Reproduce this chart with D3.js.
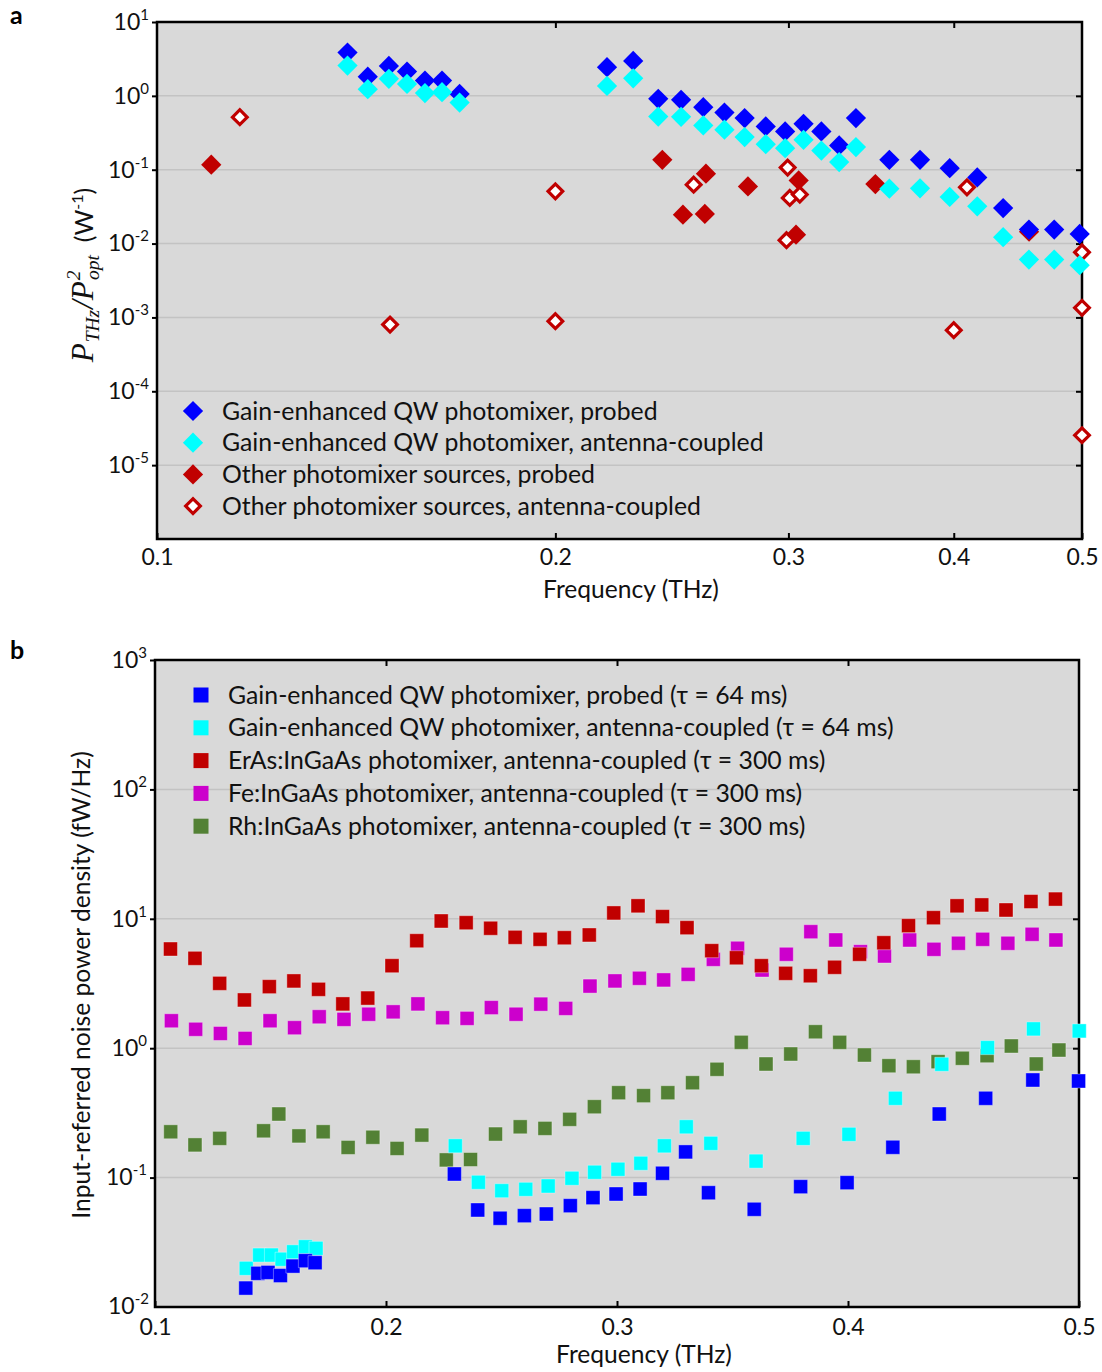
<!DOCTYPE html>
<html>
<head>
<meta charset="utf-8">
<script src="https://cdn.jsdelivr.net/npm/d3@7"></script>
<style>
  html, body { margin: 0; padding: 0; background: #ffffff; }
  svg { display: block; }
</style>
</head>
<body>
<svg id="fig" width="1102" height="1372"></svg>
<script>
// ---------------- Panel a: P_THz / P_opt^2 versus frequency ----------------
const freqQW_a = [0.1393, 0.1443, 0.1497, 0.1545, 0.1594, 0.1642, 0.1693,
  0.2188, 0.229, 0.2392, 0.2489, 0.2587, 0.2684, 0.278, 0.2884, 0.2983, 0.308,
  0.3177, 0.3277, 0.3374, 0.3576, 0.3772, 0.3972, 0.4167, 0.4359, 0.4559, 0.4764, 0.498];
const probedQW_a = [3.85, 1.82, 2.54, 2.13, 1.61, 1.61, 1.06,
  2.44, 2.97, 0.911, 0.883, 0.703, 0.594, 0.50, 0.385, 0.33, 0.419,
  0.33, 0.213, 0.50, 0.136, 0.136, 0.105, 0.0787, 0.0303, 0.0155, 0.0155, 0.0135];
const antennaQW_a = [2.57, 1.23, 1.70, 1.45, 1.09, 1.12, 0.81,
  1.36, 1.73, 0.525, 0.52, 0.397, 0.348, 0.277, 0.222, 0.196, 0.254,
  0.182, 0.127, 0.203, 0.0553, 0.056, 0.0428, 0.0319, 0.0122, 0.00608, 0.00608, 0.00509];
const freqOtherProbed_a = [0.1099, 0.2409, 0.2599, 0.2497, 0.2594, 0.2796, 0.3054, 0.304, 0.349, 0.456];
const otherProbed_a = [0.117, 0.136, 0.0883, 0.0246, 0.0252, 0.0594, 0.0716, 0.0132, 0.064, 0.0145];
const freqOtherAntenna_a = [0.1155, 0.15, 0.2, 0.2, 0.2544, 0.2996, 0.3007, 0.306, 0.299, 0.4, 0.4093, 0.5, 0.5, 0.5];
const otherAntenna_a = [0.515, 0.0008, 0.00089, 0.051, 0.0627, 0.107, 0.0415, 0.046, 0.0111, 0.000673, 0.0577, 0.0076, 0.00135, 2.54e-5];
const legend_a = [
  "Gain-enhanced QW photomixer, probed",
  "Gain-enhanced QW photomixer, antenna-coupled",
  "Other photomixer sources, probed",
  "Other photomixer sources, antenna-coupled"
];
const yDecades_a = [1e1, 1e0, 1e-1, 1e-2, 1e-3, 1e-4, 1e-5];

// ---------------- Panel b: input-referred noise power density ----------------
const freqProbedQW_b = [0.1393, 0.1445, 0.1489, 0.1543, 0.1597, 0.1651, 0.1693,
  0.2296, 0.2397, 0.2494, 0.2599, 0.2694, 0.2798, 0.2896, 0.2996, 0.31, 0.3197,
  0.3297, 0.3396, 0.3594, 0.3795, 0.3996, 0.4194, 0.4395, 0.4596, 0.48, 0.4998];
const probedQW_b = [0.0140, 0.0182, 0.0185, 0.0175, 0.0207, 0.0228, 0.022,
  0.1066, 0.0562, 0.0485, 0.0508, 0.0523, 0.0607, 0.070, 0.0747, 0.0816, 0.108,
  0.158, 0.0764, 0.0569, 0.0851, 0.0914, 0.1715, 0.31, 0.41, 0.568, 0.558];
const freqAntennaQW_b = [0.1395, 0.1453, 0.1504, 0.155, 0.16, 0.1651, 0.1697,
  0.23, 0.24, 0.2501, 0.2605, 0.2702, 0.2805, 0.2903, 0.3004, 0.3103, 0.3205,
  0.33, 0.3406, 0.3602, 0.3806, 0.4004, 0.4205, 0.4406, 0.4604, 0.4803, 0.5001];
const antennaQW_b = [0.0199, 0.0252, 0.0252, 0.0234, 0.0267, 0.0292, 0.0284,
  0.176, 0.092, 0.0792, 0.0812, 0.0861, 0.0988, 0.110, 0.116, 0.129, 0.176,
  0.247, 0.184, 0.134, 0.201, 0.216, 0.41, 0.751, 1.01, 1.41, 1.36];
const freqErAs_b = [0.1067, 0.1173, 0.128, 0.1387, 0.1495, 0.1601, 0.1708, 0.1813, 0.1921,
  0.2026, 0.2133, 0.2239, 0.2347, 0.2453, 0.2559, 0.2667, 0.2772, 0.288, 0.2986,
  0.3091, 0.3197, 0.3303, 0.341, 0.3517, 0.3625, 0.373, 0.3837, 0.3942, 0.405,
  0.4155, 0.4262, 0.437, 0.4472, 0.4579, 0.4684, 0.4792, 0.4898];
const erAs_b = [5.84, 4.95, 3.17, 2.36, 2.99, 3.31, 2.85, 2.20, 2.44,
  4.34, 6.77, 9.62, 9.33, 8.45, 7.19, 6.94, 7.14, 7.50, 11.1,
  12.6, 10.4, 8.54, 5.67, 5.0, 4.34, 3.79, 3.63, 4.22, 5.32,
  6.53, 8.85, 10.2, 12.6, 12.8, 11.7, 13.6, 14.2];
const freqFe_b = [0.1071, 0.1176, 0.1283, 0.139, 0.1498, 0.1604, 0.1711, 0.1818, 0.1925,
  0.2031, 0.2138, 0.2245, 0.2351, 0.2456, 0.2563, 0.267, 0.2778, 0.2883, 0.2991,
  0.3097, 0.3202, 0.3308, 0.3417, 0.3522, 0.3628, 0.3733, 0.3839, 0.3947, 0.4054,
  0.4158, 0.4267, 0.4372, 0.4478, 0.4583, 0.4692, 0.4797, 0.49];
const fe_b = [1.63, 1.40, 1.30, 1.19, 1.63, 1.44, 1.75, 1.67, 1.83,
  1.91, 2.20, 1.72, 1.70, 2.06, 1.83, 2.19, 2.03, 3.02, 3.31,
  3.47, 3.37, 3.72, 4.86, 5.92, 4.02, 5.32, 7.95, 6.86, 5.57,
  5.16, 6.86, 5.81, 6.47, 6.94, 6.47, 7.59, 6.86];
const freqRh_b = [0.1068, 0.1173, 0.128, 0.147, 0.1536, 0.1623, 0.1728, 0.1836, 0.1943,
  0.2048, 0.2155, 0.2261, 0.2366, 0.2474, 0.2581, 0.2688, 0.2795, 0.2902, 0.3007,
  0.3115, 0.322, 0.3327, 0.3433, 0.3538, 0.3645, 0.3752, 0.3859, 0.3964, 0.4071,
  0.4177, 0.4283, 0.439, 0.4495, 0.4602, 0.4707, 0.4815, 0.4913];
const rh_b = [0.226, 0.179, 0.201, 0.230, 0.310, 0.21, 0.226, 0.171, 0.205,
  0.168, 0.213, 0.137, 0.138, 0.217, 0.247, 0.240, 0.282, 0.353, 0.453,
  0.43, 0.453, 0.541, 0.687, 1.11, 0.755, 0.902, 1.34, 1.11, 0.886,
  0.732, 0.719, 0.787, 0.836, 0.875, 1.04, 0.755, 0.968];
const legend_b = [
  "Gain-enhanced QW photomixer, probed (\u03C4 = 64 ms)",
  "Gain-enhanced QW photomixer, antenna-coupled (\u03C4 = 64 ms)",
  "ErAs:InGaAs photomixer, antenna-coupled (\u03C4 = 300 ms)",
  "Fe:InGaAs photomixer, antenna-coupled (\u03C4 = 300 ms)",
  "Rh:InGaAs photomixer, antenna-coupled (\u03C4 = 300 ms)"
];
const yDecades_b = [1e3, 1e2, 1e1, 1e0, 1e-1, 1e-2];
const freqTicks = [0.1, 0.2, 0.3, 0.4, 0.5];

// ---------------- styling ----------------
const FONT = "Lato, 'Open Sans', sans-serif";
const COL = {
  blue: "#0000ff", cyan: "#00ffff", red: "#c00000", magenta: "#cc00cc",
  green: "#538135", bg: "#d9d9d9", grid: "#c3c3c3", ink: "#111111"
};
const TICK_FS = 23, SUP_FS = 15, LEG_FS = 24.8, TITLE_FS = 24.6;

const svg = d3.select("#fig");

const zip = (xs, ys) => xs.map((x, i) => ({ f: x, v: ys[i] }));

// Axes, grid and frame shared by both panels
function drawAxes(g, x, y, grid, xPad) {
  const [x0, x1] = x.range();
  const [yb, yt] = y.range();
  g.append("rect").attr("x", x0).attr("y", yt).attr("width", x1 - x0).attr("height", yb - yt)
    .attr("fill", COL.bg);
  g.append("g").selectAll("line").data(grid).join("line")
    .attr("x1", x0).attr("x2", x1).attr("y1", d => y(d)).attr("y2", d => y(d))
    .attr("stroke", COL.grid).attr("stroke-width", 1.5);

  const style = sel => {
    sel.select(".domain").remove();
    sel.selectAll(".tick line").attr("stroke", "#000").attr("stroke-width", 2);
    sel.attr("font-family", FONT).attr("font-size", TICK_FS);
    sel.selectAll(".tick text").attr("fill", COL.ink);
  };

  const left = g.append("g").attr("transform", `translate(${x0},0)`)
    .call(d3.axisLeft(y).tickValues(grid.concat([y.domain()[1]]).filter(d => d >= y.domain()[0]))
      .tickSizeInner(5).tickSizeOuter(0).tickPadding(3).tickFormat(() => ""))
    .call(style);
  left.selectAll(".tick text").each(function (d) {
    const t = d3.select(this);
    t.append("tspan").text("10");
    t.append("tspan").attr("dy", -10).attr("font-size", SUP_FS).text(Math.round(Math.log10(d)));
  });

  g.append("g").attr("transform", `translate(${x1},0)`)
    .call(d3.axisRight(y).tickValues(grid).tickSizeInner(-6).tickSizeOuter(0).tickFormat(() => ""))
    .call(style);
  g.append("g").attr("transform", `translate(0,${yt})`)
    .call(d3.axisTop(x).tickValues([0.2, 0.3, 0.4]).tickSizeInner(-6).tickSizeOuter(0).tickFormat(() => ""))
    .call(style);
  g.append("g").attr("transform", `translate(0,${yb})`)
    .call(d3.axisBottom(x).tickValues(freqTicks).tickSizeInner(-6).tickSizeOuter(0)
      .tickPadding(xPad).tickFormat(d3.format(".1f")))
    .call(style);

  g.append("rect").attr("x", x0).attr("y", yt).attr("width", x1 - x0).attr("height", yb - yt)
    .attr("fill", "none").attr("stroke", "#000").attr("stroke-width", 2.5);
}

const diamond = d3.symbol(d3.symbolSquare, 205)();
const diamondOpen = d3.symbol(d3.symbolSquare, 108)();
const square = d3.symbol(d3.symbolSquare, 196)();

function diamonds(g, data, x, y, color, open) {
  g.append("g").selectAll("path").data(data).join("path")
    .attr("d", open ? diamondOpen : diamond)
    .attr("transform", d => `translate(${x(d.f)},${y(d.v)}) rotate(45)`)
    .attr("fill", open ? "#ffffff" : color)
    .attr("stroke", open ? color : "none")
    .attr("stroke-width", open ? 3.2 : 0);
}
function squares(g, data, x, y, color) {
  g.append("g").selectAll("path").data(data).join("path")
    .attr("d", square)
    .attr("transform", d => `translate(${x(d.f)},${y(d.v)})`)
    .attr("fill", color)
    .attr("stroke", "rgba(255,255,255,0.35)").attr("stroke-width", 1);
}

// ================= Panel a =================
const xA = d3.scaleLog().domain([0.1, 0.5]).range([157, 1082]);
const yA = d3.scaleLog().domain([1e-6, 10]).range([539, 22]);
const gA = svg.append("g");
drawAxes(gA, xA, yA, yDecades_a.slice(1), 10);

// legend a
const legA = gA.append("g");
const legStyleA = [
  { color: COL.blue, open: false }, { color: COL.cyan, open: false },
  { color: COL.red, open: false }, { color: COL.red, open: true }
];
legend_a.forEach((label, i) => {
  const yy = 411 + i * 31.7;
  const s = legStyleA[i];
  legA.append("path").attr("d", s.open ? diamondOpen : diamond)
    .attr("transform", `translate(193,${yy}) rotate(45)`)
    .attr("fill", s.open ? "#fff" : s.color)
    .attr("stroke", s.open ? s.color : "none").attr("stroke-width", s.open ? 3.2 : 0);
  legA.append("text").attr("x", 222).attr("y", yy + 8.5)
    .attr("font-family", FONT).attr("font-size", LEG_FS).attr("fill", COL.ink).text(label);
});

diamonds(gA, zip(freqOtherProbed_a, otherProbed_a), xA, yA, COL.red, false);
diamonds(gA, zip(freqQW_a, probedQW_a), xA, yA, COL.blue, false);
diamonds(gA, zip(freqOtherAntenna_a, otherAntenna_a), xA, yA, COL.red, true);
diamonds(gA, zip(freqQW_a, antennaQW_a), xA, yA, COL.cyan, false);

// axis titles a
gA.append("text").attr("x", 631).attr("y", 598).attr("text-anchor", "middle")
  .attr("font-family", FONT).attr("font-size", TITLE_FS).attr("fill", COL.ink).text("Frequency (THz)");

const yl = gA.append("text").attr("transform", "translate(93,275) rotate(-90)")
  .attr("text-anchor", "middle").attr("fill", COL.ink);
const serif = "'Liberation Serif', 'DejaVu Serif', serif";
const mathPart = (txt, size, dx, dy) => yl.append("tspan").attr("font-family", serif)
  .attr("font-style", "italic").attr("font-size", size).attr("dx", dx).attr("dy", dy).text(txt);
mathPart("P", 31, 0, 0);
mathPart("THz", 19.5, 1, 6);
mathPart("/", 31, 1, -6);
mathPart("P", 31, 0, 0);
mathPart("2", 19.5, 1, -13);
mathPart("opt", 19.5, -9.5, 19);
yl.append("tspan").attr("font-family", FONT).attr("font-size", 25).attr("dy", -6).text("\u00A0\u00A0(W");
yl.append("tspan").attr("font-family", FONT).attr("font-size", 16).attr("dy", -10).text("-1");
yl.append("tspan").attr("font-family", FONT).attr("font-size", 25).attr("dy", 10).text(")");

gA.append("text").attr("x", 10).attr("y", 24).attr("font-family", FONT).attr("font-weight", "bold")
  .attr("font-size", 25).attr("fill", "#000").text("a");

// ================= Panel b =================
const xB = d3.scaleLinear().domain([0.1, 0.5]).range([155, 1079]);
const yB = d3.scaleLog().domain([1e-2, 1e3]).range([1307, 660]);
const gB = svg.append("g");
drawAxes(gB, xB, yB, yDecades_b.slice(1, -1), 12);
// the bottom decade label sits on the frame corner
gB.append("text").attr("x", 149).attr("y", yB(1e-2)).attr("dy", "0.32em").attr("text-anchor", "end")
  .attr("font-family", FONT).attr("font-size", TICK_FS).attr("fill", COL.ink)
  .call(t => { t.append("tspan").text("10"); t.append("tspan").attr("dy", -10).attr("font-size", SUP_FS).text("-2"); });

const legColB = [COL.blue, COL.cyan, COL.red, COL.magenta, COL.green];
legend_b.forEach((label, i) => {
  const yy = 695 + i * 32.8;
  gB.append("rect").attr("x", 201 - 7.5).attr("y", yy - 7.5).attr("width", 15).attr("height", 15)
    .attr("fill", legColB[i]);
  gB.append("text").attr("x", 228).attr("y", yy + 8.5)
    .attr("font-family", FONT).attr("font-size", LEG_FS).attr("fill", COL.ink).text(label);
});

squares(gB, zip(freqRh_b, rh_b), xB, yB, COL.green);
squares(gB, zip(freqFe_b, fe_b), xB, yB, COL.magenta);
squares(gB, zip(freqErAs_b, erAs_b), xB, yB, COL.red);
squares(gB, zip(freqAntennaQW_b, antennaQW_b), xB, yB, COL.cyan);
squares(gB, zip(freqProbedQW_b, probedQW_b), xB, yB, COL.blue);

gB.append("text").attr("x", 644).attr("y", 1363).attr("text-anchor", "middle")
  .attr("font-family", FONT).attr("font-size", TITLE_FS).attr("fill", COL.ink).text("Frequency (THz)");
gB.append("text").attr("transform", "translate(90,985) rotate(-90)").attr("text-anchor", "middle")
  .attr("font-family", FONT).attr("font-size", TITLE_FS).attr("fill", COL.ink)
  .text("Input-referred noise power density (fW/Hz)");
gB.append("text").attr("x", 10).attr("y", 659).attr("font-family", FONT).attr("font-weight", "bold")
  .attr("font-size", 25).attr("fill", "#000").text("b");
</script>
</body>
</html>
